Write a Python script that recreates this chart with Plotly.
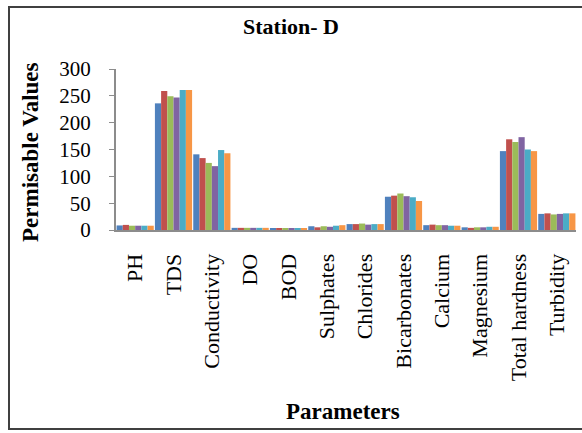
import plotly.graph_objects as go

categories = ["PH", "TDS", "Conductivity", "DO", "BOD", "Sulphates", "Chlorides",
              "Bicarbonates", "Calcium", "Magnesium", "Total hardness", "Turbidity"]

series_1 = [8.5, 236, 141, 4, 3, 7, 11, 62, 9, 5, 147, 30]
series_2 = [9.5, 259, 134, 4, 3, 5, 11, 64, 10, 4, 169, 31]
series_3 = [8, 249, 125, 4, 3, 7, 12, 68, 9, 5, 164, 29]
series_4 = [8, 247, 119, 4, 3, 6, 10, 63, 9, 5, 173, 30]
series_5 = [8, 261, 149, 4, 3, 8, 11, 61, 8, 6, 150, 31]
series_6 = [8, 261, 143, 4, 3, 9, 11, 54, 8, 6, 147, 31]

series_names = ["Series1", "Series2", "Series3", "Series4", "Series5", "Series6"]
series_values = [series_1, series_2, series_3, series_4, series_5, series_6]
colors = ["#4F81BD", "#C0504D", "#9BBB59", "#8064A2", "#4BACC6", "#F79646"]

y_ticks = [0, 50, 100, 150, 200, 250, 300]

FONT = "Liberation Serif, Times New Roman, serif"

fig = go.Figure()
for name, vals, col in zip(series_names, series_values, colors):
    fig.add_trace(go.Bar(x=categories, y=vals, name=name,
                         marker=dict(color=col, line=dict(width=0))))

W, H = 582, 433
L, R, T, B = 116, 6, 69, 203
pw, ph = W - L - R, H - T - B

def px_to_paper_x(x):
    return (x - L) / pw

def px_to_paper_y(y):
    return (H - B - y) / ph

fig.update_layout(
    width=W, height=H,
    margin=dict(l=L, r=R, t=T, b=B, autoexpand=False),
    paper_bgcolor="white", plot_bgcolor="white",
    barmode="group", bargap=0.03, bargroupgap=0,
    showlegend=False,
    font=dict(family=FONT, color="black", size=21),
    title=dict(text="<b>Station- D</b>", x=291 / W, xref="container", xanchor="center",
               y=1 - 26 / H, yref="container", yanchor="middle",
               font=dict(family=FONT, size=22, color="black")),
    xaxis=dict(showline=True, linecolor="#8c8c8c", linewidth=2, ticks="",
               tickangle=-90, tickfont=dict(family=FONT, size=22),
               ticklabelstandoff=13, showgrid=False),
    yaxis=dict(range=[0, 300], tickvals=y_ticks, showline=True, linecolor="#8c8c8c",
               linewidth=2, ticks="outside", ticklen=5, tickcolor="#8c8c8c", tickwidth=1,
               tickfont=dict(family=FONT, size=21), ticklabelstandoff=14,
               showgrid=False, zeroline=False),
    annotations=[
        dict(text="<b>Permisable Values</b>", textangle=-90, showarrow=False,
             xref="paper", yref="paper", x=px_to_paper_x(30), y=px_to_paper_y(152),
             xanchor="center", yanchor="middle", font=dict(family=FONT, size=23)),
        dict(text="<b>Parameters</b>", showarrow=False,
             xref="paper", yref="paper", x=px_to_paper_x(343), y=px_to_paper_y(412),
             xanchor="center", yanchor="middle", font=dict(family=FONT, size=23)),
    ],
    shapes=[
        dict(type="rect", xref="paper", yref="paper",
             x0=px_to_paper_x(9), x1=px_to_paper_x(592),
             y0=px_to_paper_y(429), y1=px_to_paper_y(7),
             line=dict(color="#404040", width=2), fillcolor="rgba(0,0,0,0)", layer="below"),
    ],
)

fig.write_html("out.html", config={"displayModeBar": False},
               post_script="document.body.style.margin='0';")
